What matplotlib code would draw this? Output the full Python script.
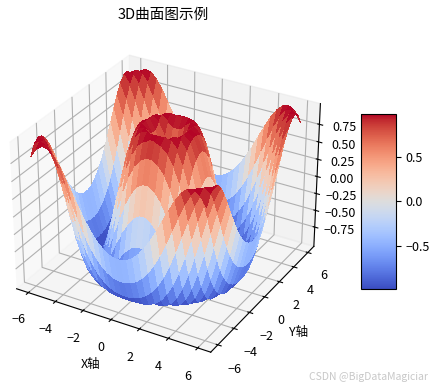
import numpy as np
import matplotlib
matplotlib.use('Agg')
import matplotlib.pyplot as plt

plt.rcParams['font.family'] = ['Noto Sans CJK SC', 'DejaVu Sans']

# one quadrant of the surface
axis_half = [0.207, 0.621, 1.034, 1.448, 1.862, 2.276, 2.690, 3.103, 3.517, 3.931, 4.345, 4.759, 5.172, 5.586, 6.0]
z_quadrant = [
    [0.288, 0.608, 0.870, 0.994, 0.955, 0.756, 0.430, 0.031, -0.373, -0.714, -0.935, -0.999, -0.894, -0.639, -0.276],
    [0.608, 0.769, 0.935, 1.000, 0.924, 0.705, 0.372, -0.023, -0.417, -0.744, -0.948, -0.996, -0.879, -0.615, -0.249],
    [0.870, 0.935, 0.994, 0.978, 0.848, 0.599, 0.257, -0.129, -0.501, -0.798, -0.970, -0.988, -0.846, -0.566, -0.194],
    [0.994, 1.000, 0.978, 0.888, 0.705, 0.430, 0.087, -0.279, -0.615, -0.866, -0.991, -0.966, -0.791, -0.490, -0.111],
    [0.955, 0.924, 0.848, 0.705, 0.487, 0.200, -0.129, -0.460, -0.744, -0.935, -1.000, -0.922, -0.707, -0.385, -0.001],
    [0.756, 0.705, 0.599, 0.430, 0.200, -0.077, -0.373, -0.649, -0.866, -0.986, -0.981, -0.846, -0.591, -0.249, 0.134],
    [0.430, 0.372, 0.257, 0.087, -0.129, -0.373, -0.615, -0.822, -0.960, -0.999, -0.922, -0.729, -0.438, -0.083, 0.288],
    [0.031, -0.023, -0.129, -0.279, -0.460, -0.649, -0.822, -0.948, -1.000, -0.957, -0.810, -0.566, -0.249, 0.107, 0.455],
    [-0.373, -0.417, -0.501, -0.615, -0.744, -0.866, -0.960, -1.000, -0.966, -0.846, -0.639, -0.358, -0.028, 0.313, 0.622],
    [-0.714, -0.744, -0.798, -0.866, -0.935, -0.986, -0.999, -0.957, -0.846, -0.662, -0.411, -0.111, 0.212, 0.521, 0.777],
    [-0.935, -0.948, -0.970, -0.991, -1.000, -0.981, -0.922, -0.810, -0.639, -0.411, -0.138, 0.160, 0.455, 0.713, 0.902],
    [-0.999, -0.996, -0.988, -0.966, -0.922, -0.846, -0.729, -0.566, -0.358, -0.111, 0.160, 0.432, 0.678, 0.870, 0.981],
    [-0.894, -0.879, -0.846, -0.791, -0.707, -0.591, -0.438, -0.249, -0.028, 0.212, 0.455, 0.678, 0.858, 0.971, 0.998],
    [-0.639, -0.615, -0.566, -0.490, -0.385, -0.249, -0.083, 0.107, 0.313, 0.521, 0.713, 0.870, 0.971, 0.999, 0.941],
    [-0.276, -0.249, -0.194, -0.111, -0.001, 0.134, 0.288, 0.455, 0.622, 0.777, 0.902, 0.981, 0.998, 0.941, 0.808],
]

# mirror the quadrant out to the whole -6..6 square
half = np.array(axis_half)
axis_full = np.concatenate([-half[::-1], half])
q = np.array(z_quadrant)
Z = np.vstack([q[::-1], q])
Z = np.hstack([Z[:, ::-1], Z])
X, Y = np.meshgrid(axis_full, axis_full)

fig = plt.figure(figsize=(4.32, 3.88), dpi=100)
ax = fig.add_axes([-0.022, 0.035, 0.80, 0.893], projection='3d')
surf = ax.plot_surface(X, Y, Z, cmap='coolwarm', linewidth=0, antialiased=False)

fig.text(163 / 432, 1 - 15 / 388, '3D曲面图示例', fontsize=10.5, ha='center', va='center')
fig.text(428 / 432, 1 - 377 / 388, 'CSDN @BigDataMagiciar', fontsize=7.5, color='#c8c8c8', ha='right', va='center')
ax.set_xlabel('X轴', fontsize=9, labelpad=2)
ax.set_ylabel('Y轴', fontsize=9, labelpad=2)
ax.tick_params(labelsize=9, pad=3)
ax.tick_params(axis='z', pad=3)
ax.set_xticks([-6, -4, -2, 0, 2, 4, 6])
ax.set_yticks([-6, -4, -2, 0, 2, 4, 6])
ax.set_zticks([-0.75, -0.5, -0.25, 0, 0.25, 0.5, 0.75])

cax = fig.add_axes([361 / 432, 1 - 289 / 388, 35 / 432, 175 / 388])
cbar = fig.colorbar(surf, cax=cax)
cbar.set_ticks([-0.5, 0, 0.5])
cbar.ax.tick_params(labelsize=9)

fig.savefig('out.png', dpi=100)
